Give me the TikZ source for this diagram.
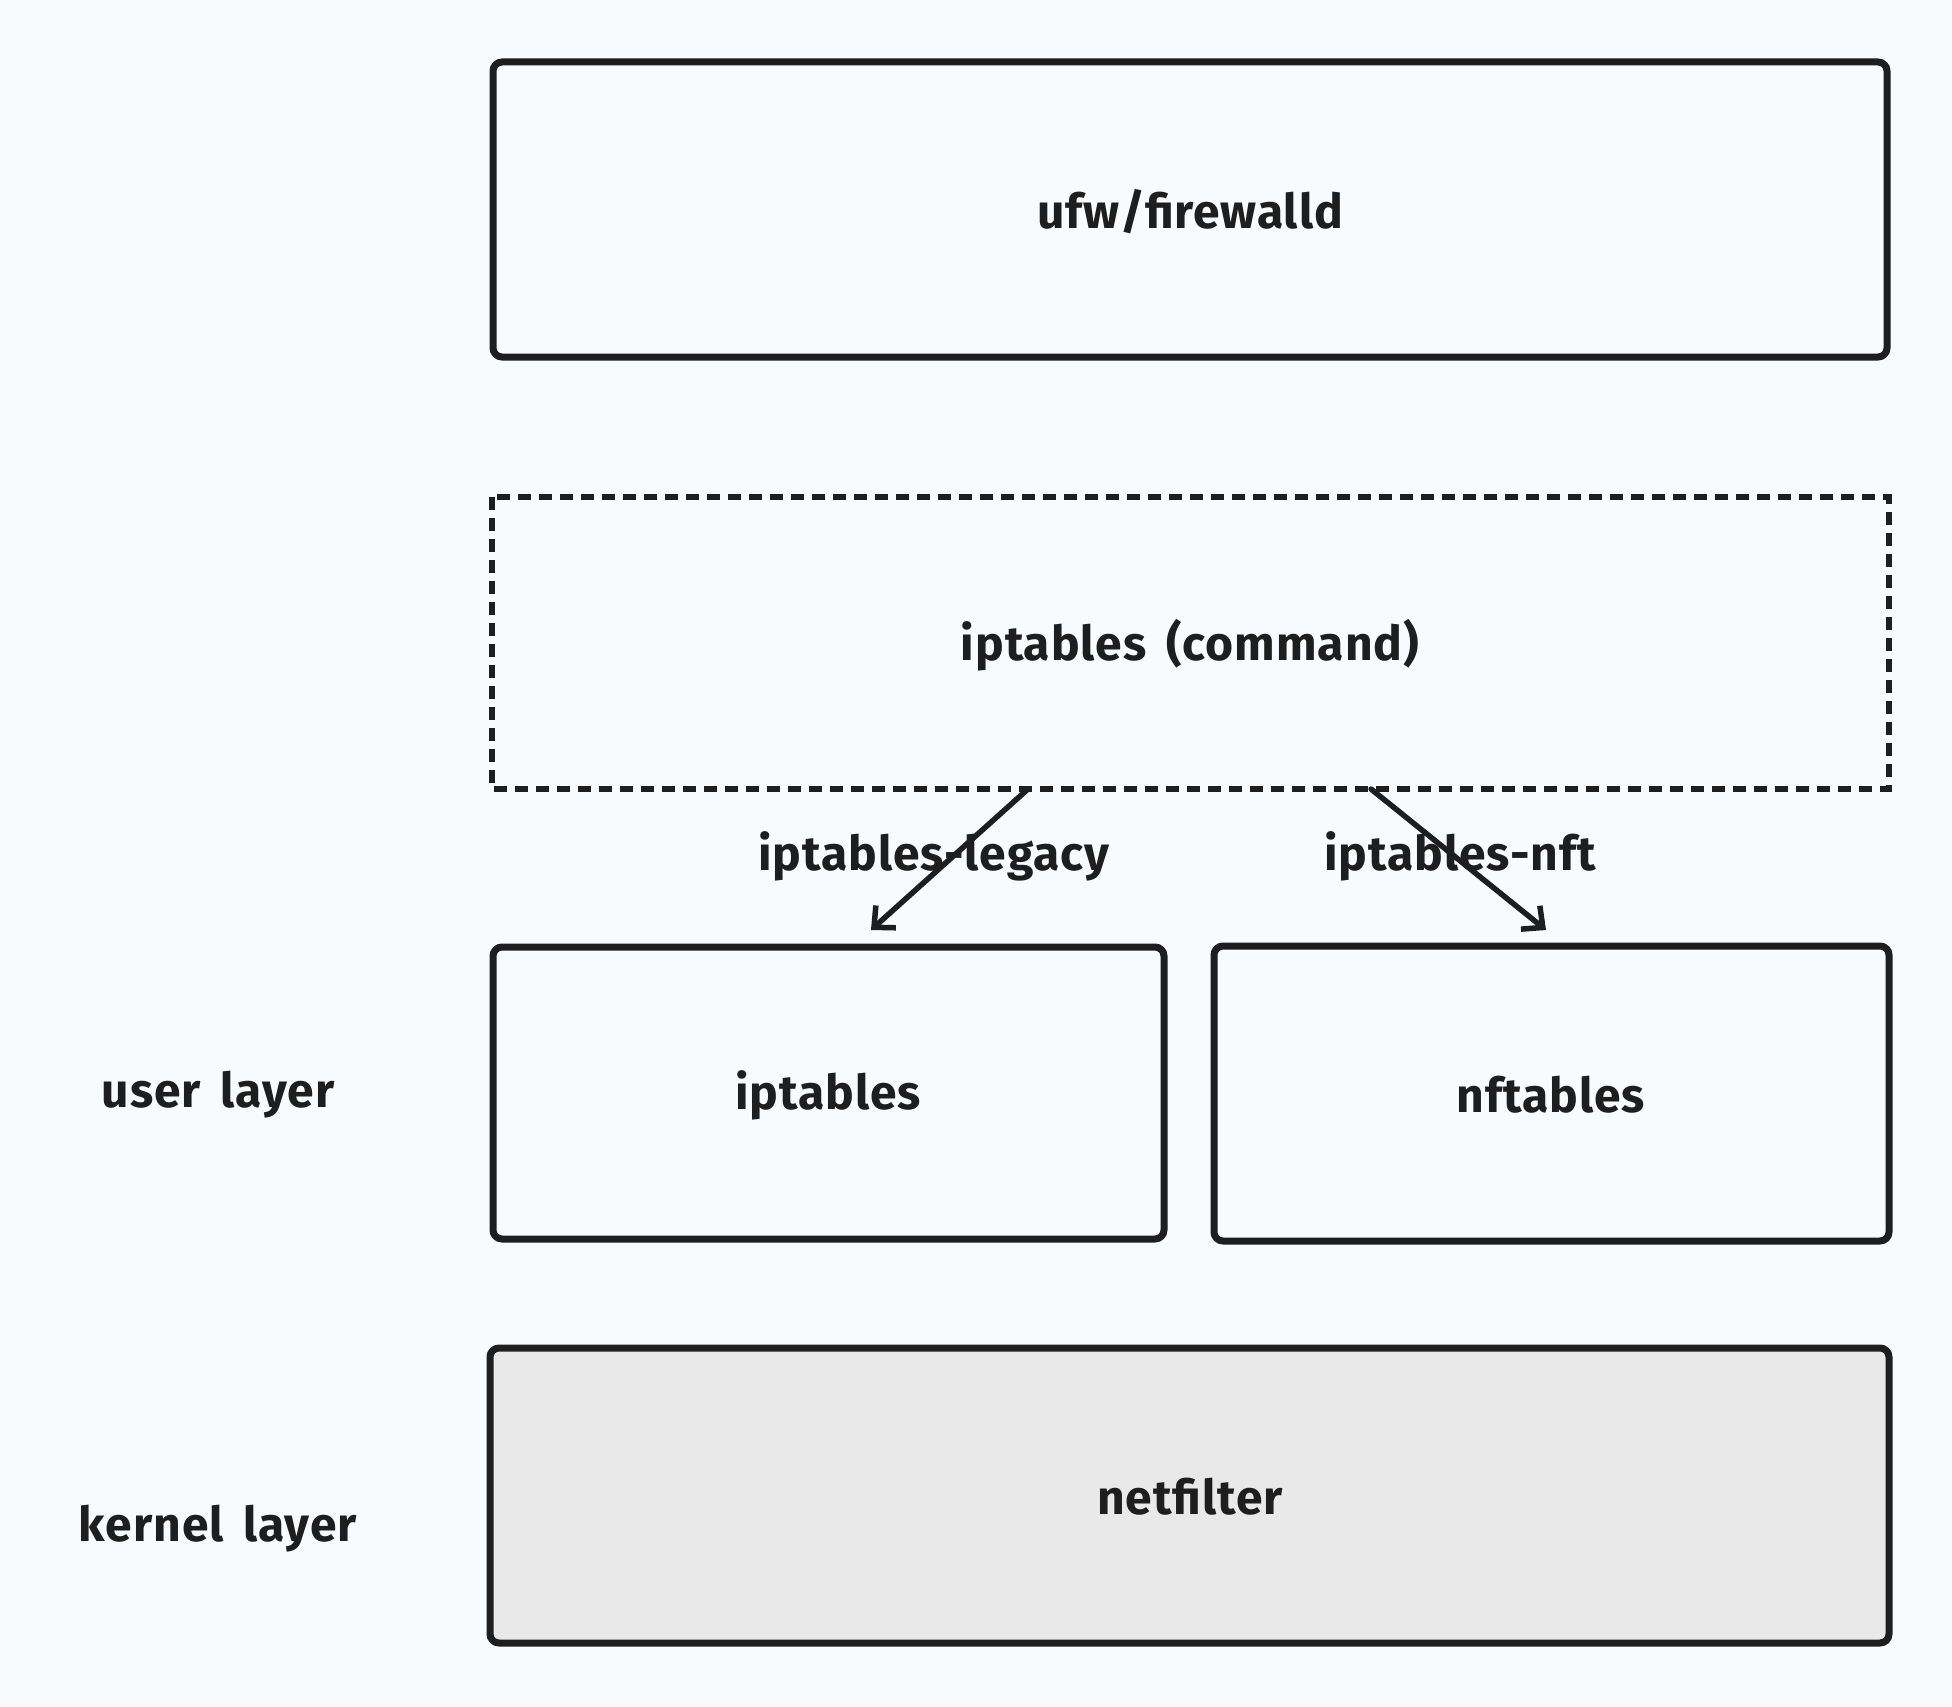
\documentclass[tikz,border=0pt]{standalone}
\usepackage{fontspec}
\setmainfont{Fira Sans}[LetterSpace=2,WordSpace=1.6]
\usetikzlibrary{arrows.meta}
\definecolor{bg}{HTML}{F9FAFB}
\definecolor{ink}{HTML}{1E1E1E}
\definecolor{kfill}{HTML}{E9E9E9}
\begin{document}
\begin{tikzpicture}[x=1pt,y=-1pt,
  box/.style={draw=ink,line width=7pt,rounded corners=9pt},
  lbl/.style={text=ink,font=\fontsize{48}{56}\selectfont\bfseries},
  conn/.style={draw=ink,line width=5.5pt,line cap=round,-{Straight Barb[length=16pt,width=30pt,line width=5.5pt]}}]
\fill[bg] (0,0) rectangle (1952,1707);
\useasboundingbox (0,0) rectangle (1952,1707);
\draw[box] (493,62) rectangle (1887,357);
\node[lbl] (ufw) at (1190,212) {ufw/firewalld};
\draw[draw=ink,line width=6pt,dash pattern=on 13pt off 8pt] (492,497) rectangle (1889,789);
\node[lbl] (cmd) at (1190,645) {iptables (command)};
\coordinate (cmdL) at (1028,789);
\coordinate (cmdR) at (1371,789);
\draw[box] (493,947) rectangle (1164,1239);
\node[lbl] (ipt) at (828,1095) {iptables};
\draw[box] (1214,946) rectangle (1889,1241);
\node[lbl] (nft) at (1551,1095) {nftables};
\draw[box,fill=kfill] (490,1348) rectangle (1889,1643);
\node[lbl] (nf) at (1190,1497) {netfilter};
\node[lbl] (user) at (218,1095) {user layer};
\node[lbl] (kern) at (218,1529) {kernel layer};
\coordinate (iptT) at (871,930);
\coordinate (nftT) at (1546,930);
\draw[conn] (cmdL) -- (iptT);
\draw[conn] (cmdR) -- (nftT);
\node[lbl] (leg) at (934,856) {iptables-legacy};
\node[lbl] (nftl) at (1460,856) {iptables-nft};
\end{tikzpicture}
\end{document}
